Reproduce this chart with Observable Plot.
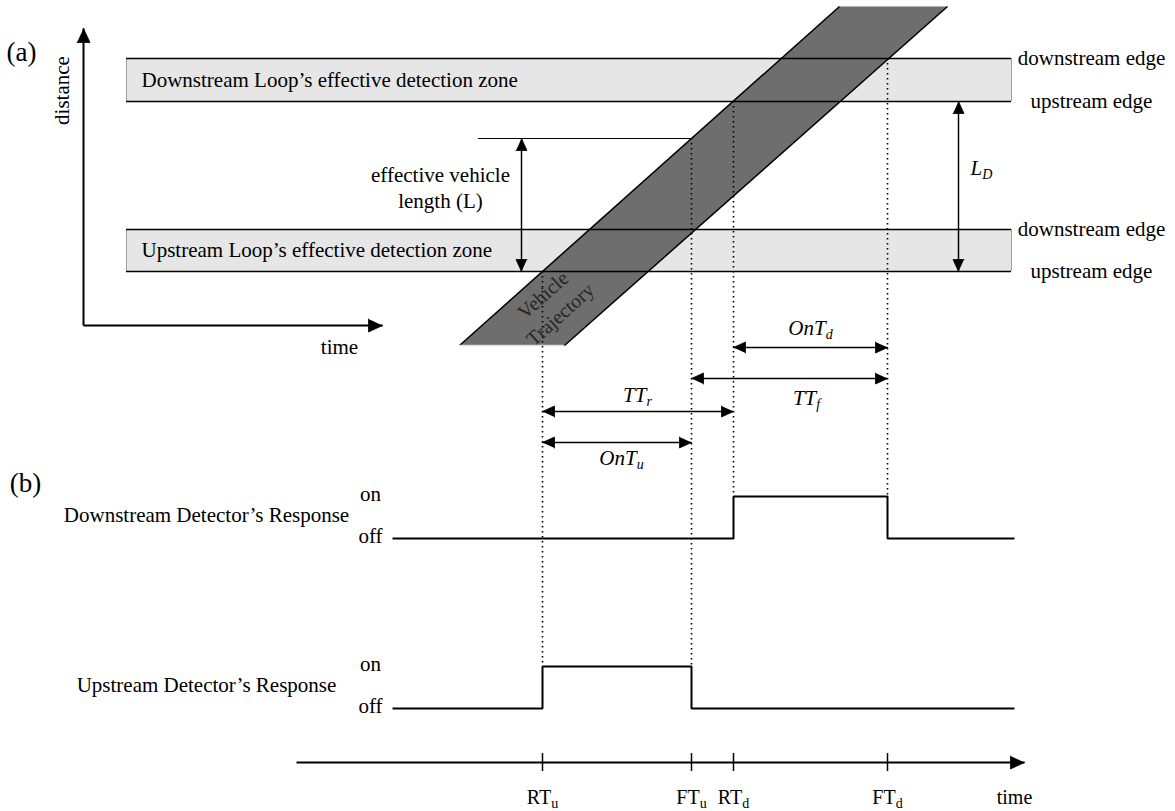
<!DOCTYPE html>
<html>
<head>
<meta charset="utf-8">
<script src="https://cdn.jsdelivr.net/npm/d3@7"></script>
<script src="https://cdn.jsdelivr.net/npm/@observablehq/plot@0.6"></script>
<style>
  html, body { margin: 0; padding: 0; background: #fff; }
</style>
</head>
<body>
<div id="chart"></div>
<script>
const W = 1175, H = 811;
const FONT = '"Liberation Serif", "Times New Roman", serif';

// ---------------- data ----------------
// detector event times (time axis units) and labels
const eventNames = ["RT", "FT", "RT", "FT"];
const eventSubs = ["u", "u", "d", "d"];
const eventTimes = [542, 691, 733, 887];
// extent of the dotted projection of each event (distance units, top -> bottom)
const dottedTop = [271, 138, 101, 58];
const dottedBottom = [666, 666, 496, 496];

// loop detection zones
const zoneLabels = ["Downstream Loop\u2019s effective detection zone", "Upstream Loop\u2019s effective detection zone"];
const zoneDownEdge = [58, 229];
const zoneUpEdge = [101, 271];
const zoneSpan = [126, 1011];
const edgeLabels = ["downstream edge", "upstream edge"];

// vehicle trajectory (front / rear edge), time at two distances
const trajD = [345, 6];
const trajFrontT = [459, 839];
const trajRearT = [564, 947];

// effective vehicle length
const vehLenTop = 138;
const vehLenLineSpan = [478, 690];
const vehLenArrowT = 521;
const ldArrowT = 958;

// time intervals between events
const intervalNames = ["OnT", "TT", "TT", "OnT"];
const intervalSubs = ["d", "f", "r", "u"];
const intervalFrom = [2, 1, 0, 0];
const intervalTo = [3, 3, 2, 1];
const intervalLevel = [347, 378, 411, 442];
const intervalLabelT = [810, 806, 637, 621];
const intervalLabelLevel = [328, 398, 395, 458];

// detector responses
const responseLabels = ["Downstream Detector\u2019s Response", "Upstream Detector\u2019s Response"];
const onLevel = [496, 666];
const offLevel = [538, 708];
const riseIdx = [2, 0];
const fallIdx = [3, 1];
const signalSpan = [392, 1014];

// axes
const originA = [83, 325];
const distanceTip = 28;
const timeTipA = 382;
const timeAxisSpan = [296, 1024];
const timeAxisLevel = 762;
const tickSpan = [753, 771];
const tickLabelLevel = 797;

// ---------------- helpers ----------------
function head(tx, ty, dx, dy, id, len = 12, half = 5.5) {
  const bx = tx - dx * len, by = ty - dy * len;
  const px = -dy, py = dx;
  return [
    {id, x: tx, y: ty},
    {id, x: bx + px * half, y: by + py * half},
    {id, x: bx - px * half, y: by - py * half}
  ];
}

const shafts = [];
const heads = [];
let hid = 0;
function dbl(x1, y1, x2, y2, w = 1.5) {
  shafts.push({x1, y1, x2, y2, w});
  const L = Math.hypot(x2 - x1, y2 - y1), ux = (x2 - x1) / L, uy = (y2 - y1) / L;
  heads.push(...head(x2, y2, ux, uy, hid++));
  heads.push(...head(x1, y1, -ux, -uy, hid++));
}
function single(x1, y1, x2, y2, w = 2, len = 14, half = 6.5) {
  shafts.push({x1, y1, x2, y2, w});
  const L = Math.hypot(x2 - x1, y2 - y1), ux = (x2 - x1) / L, uy = (y2 - y1) / L;
  heads.push(...head(x2, y2, ux, uy, hid++, len, half));
}
intervalNames.forEach((_, i) => dbl(eventTimes[intervalFrom[i]], intervalLevel[i], eventTimes[intervalTo[i]], intervalLevel[i]));
dbl(vehLenArrowT, vehLenTop, vehLenArrowT, zoneUpEdge[1]);
dbl(ldArrowT, zoneUpEdge[0], ldArrowT, zoneUpEdge[1]);
single(originA[0], originA[1], originA[0], distanceTip);
single(originA[0], originA[1], timeTipA, originA[1]);
single(timeAxisSpan[0], timeAxisLevel, timeAxisSpan[1], timeAxisLevel);

const zones = zoneLabels.map((label, i) => ({label, d1: zoneDownEdge[i], d2: zoneUpEdge[i]}));
const zoneEdges = zones.flatMap(z => [z.d1, z.d2]);

const traj = [
  {t: trajFrontT[0], d: trajD[0]}, {t: trajFrontT[1], d: trajD[1]},
  {t: trajRearT[1], d: trajD[1]}, {t: trajRearT[0], d: trajD[0]}
];
const trajEdges = [
  {id: "f", t: trajFrontT[0], d: trajD[0]}, {id: "f", t: trajFrontT[1], d: trajD[1]},
  {id: "r", t: trajRearT[0], d: trajD[0]}, {id: "r", t: trajRearT[1], d: trajD[1]}
];

const signals = responseLabels.flatMap((_, i) => [
  {id: i, t: signalSpan[0], v: offLevel[i]},
  {id: i, t: eventTimes[riseIdx[i]], v: onLevel[i]},
  {id: i, t: eventTimes[fallIdx[i]], v: offLevel[i]},
  {id: i, t: signalSpan[1], v: offLevel[i]}
]);

// labels with subscripts
const eventLabels = eventTimes.map((t, i) => ({x: t, y: tickLabelLevel, main: eventNames[i], sub: eventSubs[i]}));
const italicLabels = intervalNames.map((n, i) => ({x: intervalLabelT[i], y: intervalLabelLevel[i], main: n, sub: intervalSubs[i]}));
italicLabels.push({x: 981, y: 168, main: "L", sub: "D"});

const txt = (data, opts) => Plot.text(data, {fontFamily: FONT, fill: "black", ...opts});

const plot = Plot.plot({
  width: W, height: H,
  marginTop: 0, marginRight: 0, marginBottom: 0, marginLeft: 0,
  x: {domain: [0, W], range: [0, W]},
  y: {domain: [0, H], range: [0, H]},
  axis: null,
  style: {fontFamily: FONT, fontSize: "21px", background: "white", color: "black", overflow: "visible"},
  marks: [
    Plot.rect(zones, {x1: () => zoneSpan[0], x2: () => zoneSpan[1], y1: "d1", y2: "d2", fill: "#e6e6e6"}),
    Plot.ruleX(zones.flatMap(z => [{t: zoneSpan[0], ...z}, {t: zoneSpan[1], ...z}]), {x: "t", y1: "d1", y2: "d2", stroke: "#a0a0a0", strokeWidth: 1}),
    Plot.line(traj, {x: "t", y: "d", fill: "#6e6e6e", stroke: "none"}),
    Plot.line(trajEdges, {x: "t", y: "d", z: "id", stroke: "black", strokeWidth: 1.5, strokeLinecap: "butt"}),
    Plot.ruleY([trajD[0]], {x1: () => trajFrontT[0], x2: () => trajRearT[0], stroke: "#e0e0e0", strokeWidth: 1.5}),
    Plot.ruleY(zoneEdges, {x1: () => zoneSpan[0], x2: () => zoneSpan[1], stroke: "black", strokeWidth: 1.5}),
    Plot.ruleY([vehLenTop], {x1: () => vehLenLineSpan[0], x2: () => vehLenLineSpan[1], stroke: "black", strokeWidth: 1}),
    Plot.ruleX(eventTimes.map((t, i) => ({t, y1: dottedTop[i], y2: dottedBottom[i]})), {x: "t", y1: "y1", y2: "y2", stroke: "black", strokeWidth: 1.6, strokeDasharray: "1.6,3.4"}),
    Plot.line(signals, {x: "t", y: "v", z: "id", curve: "step-after", stroke: "black", strokeWidth: 2, strokeLinejoin: "miter", strokeLinecap: "butt"}),
    Plot.ruleX(eventTimes, {x: d => d, y1: () => tickSpan[0], y2: () => tickSpan[1], stroke: "black", strokeWidth: 1.5}),
    Plot.link(shafts, {x1: "x1", y1: "y1", x2: "x2", y2: "y2", stroke: "black", strokeWidth: d => d.w}),
    Plot.line(heads, {x: "x", y: "y", z: "id", fill: "black", stroke: "black", strokeWidth: 0.8, strokeLinejoin: "miter"}),
    txt(zones, {x: () => zoneSpan[0] + 15, y: z => (z.d1 + z.d2) / 2, text: "label", textAnchor: "start", fontSize: 21}),
    txt(zoneEdges.map((d, i) => ({d, label: edgeLabels[i % 2]})), {x: () => 1091, y: "d", text: "label", fontSize: 21}),
    txt(["effective vehicle\nlength (L)"], {x: () => 440, y: () => 186, text: d => d, fontSize: 21, lineHeight: 1.24}),
    txt(["Vehicle\nTrajectory"], {x: () => 550, y: () => 303, text: d => d, fontSize: 20, lineHeight: 1.3, rotate: -41.7, fill: "#262626"}),
    txt(["(a)"], {x: () => 21, y: () => 52, text: d => d, fontSize: 27}),
    txt(["(b)"], {x: () => 25, y: () => 483, text: d => d, fontSize: 27}),
    txt(["distance"], {x: () => 62, y: () => 90, text: d => d, fontSize: 21, rotate: -90}),
    txt(["time"], {x: () => 339, y: () => 347, text: d => d, fontSize: 21}),
    txt(["time"], {x: () => 1014, y: () => tickLabelLevel, text: d => d, fontSize: 20}),
    txt(responseLabels, {x: () => 206, y: (d, i) => (onLevel[i] + offLevel[i]) / 2 - 2, text: d => d, fontSize: 21}),
    txt(onLevel.map(v => ({v, s: "on"})).concat(offLevel.map(v => ({v, s: "off"}))), {x: () => 370, y: d => d.v - 2, text: "s", fontSize: 21}),
    txt(eventLabels, {x: "x", y: "y", text: "main", fontSize: 20}),
    txt(italicLabels, {x: "x", y: "y", text: "main", fontSize: 21, fontStyle: "italic"})
  ]
});

// attach subscripts as tspans inside the same text elements (last two text marks)
const textGroups = Array.from(plot.querySelectorAll("g")).filter(g => g.querySelector(":scope > text"));
const subSets = [eventLabels, italicLabels];
textGroups.slice(-2).forEach((g, k) => {
  const data = subSets[k];
  Array.from(g.querySelectorAll(":scope > text")).forEach((el, j) => {
    const datum = el.__data__;
    const idx = typeof datum === "number" ? datum : j;
    d3.select(el).append("tspan")
      .attr("dy", "0.3em")
      .attr("font-size", 14)
      .text(data[idx].sub);
  });
});

document.getElementById("chart").appendChild(plot);
</script>
</body>
</html>
